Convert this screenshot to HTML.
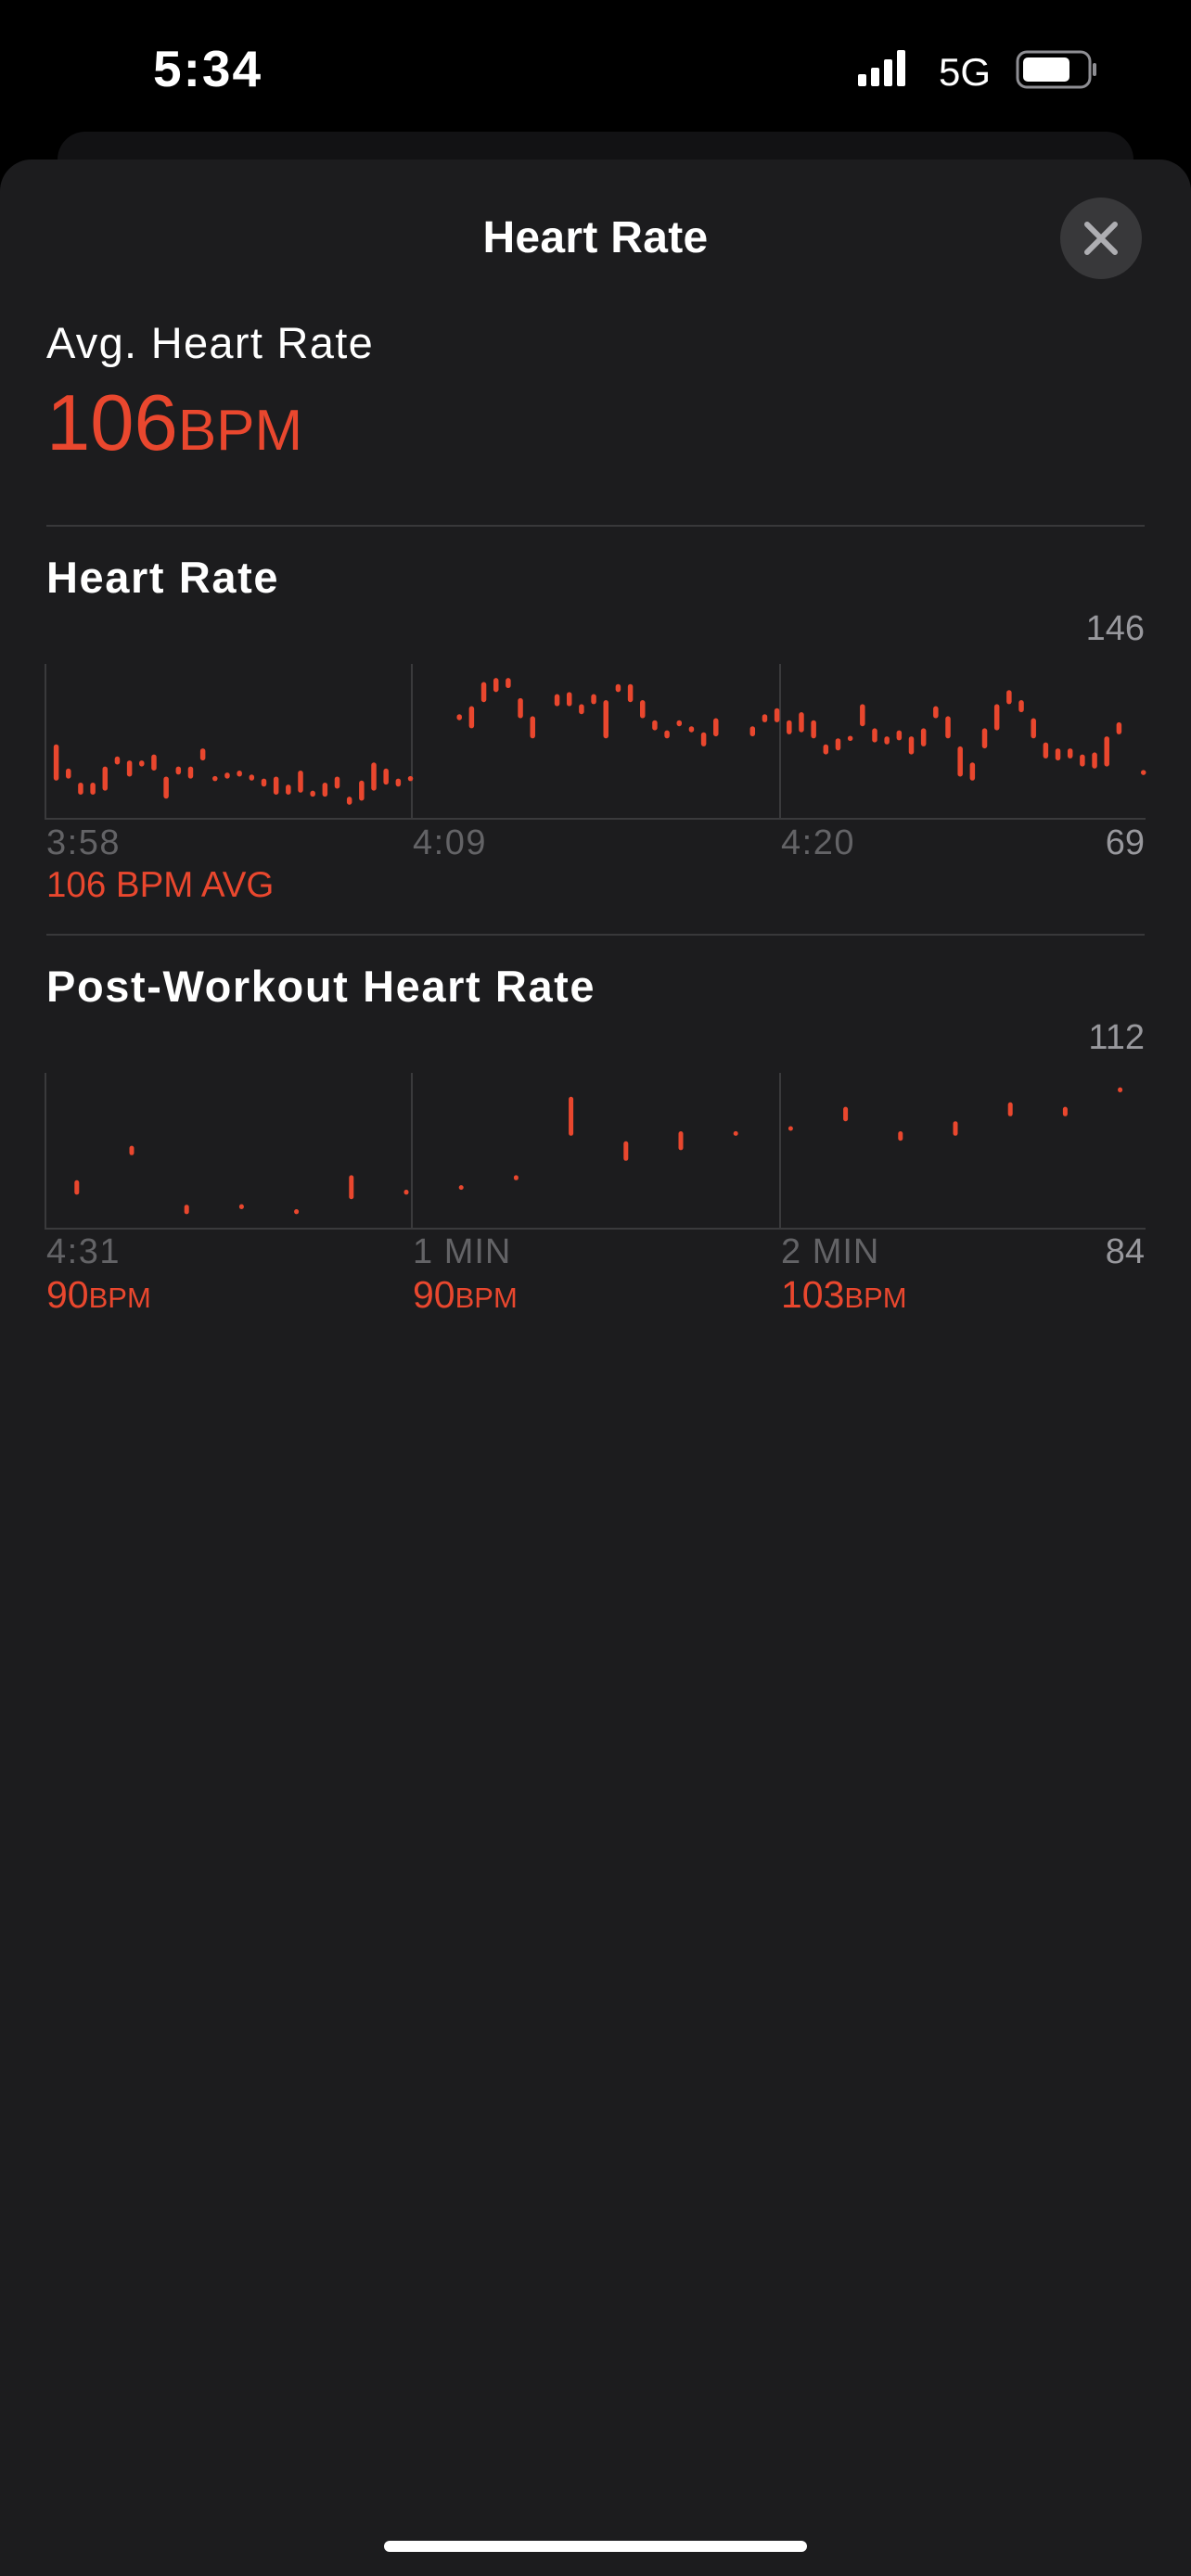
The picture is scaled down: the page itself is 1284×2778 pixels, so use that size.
<!DOCTYPE html>
<html><head><meta charset="utf-8">
<style>
html,body{margin:0;padding:0;background:#000;}
svg{display:block;font-family:"Liberation Sans",sans-serif;}
</style></head>
<body>
<svg id="root" width="1284" height="2778" viewBox="0 0 1284 2778" xmlns="http://www.w3.org/2000/svg">
  <rect x="0" y="0" width="1284" height="2778" fill="#000"/>
  <text x="165" y="93" font-size="55" font-weight="bold" letter-spacing="2" fill="#fff">5:34</text>
  <g fill="#fff">
    <rect x="925" y="80" width="9" height="13" rx="2"/>
    <rect x="939" y="73" width="9" height="20" rx="2"/>
    <rect x="953" y="64" width="9" height="29" rx="2"/>
    <rect x="967" y="54" width="9" height="39" rx="2"/>
  </g>
  <text x="1012" y="92" font-size="42" fill="#fff">5G</text>
  <g>
    <rect x="1097" y="56" width="78" height="38" rx="10" fill="none" stroke="#8e8e93" stroke-width="3"/>
    <rect x="1103" y="62" width="50" height="26" rx="5" fill="#fff"/>
    <rect x="1178" y="68" width="4" height="14" rx="2" fill="#8e8e93"/>
  </g>
  <rect x="62" y="142" width="1160" height="100" rx="30" fill="#121214"/>
  <rect x="0" y="172" width="1284" height="2700" rx="34" fill="#1c1c1e"/>
  <text x="642" y="272" font-size="48" font-weight="bold" letter-spacing="0.3" fill="#fff" text-anchor="middle">Heart Rate</text>
  <g>
    <circle cx="1187" cy="257" r="44" fill="#38383a"/>
    <path d="M1172 242 L1202 272 M1202 242 L1172 272" stroke="#aeaeb2" stroke-width="6" stroke-linecap="round"/>
  </g>
  <text x="50" y="386" font-size="47" letter-spacing="1.3" fill="#fff">Avg. Heart Rate</text>
  <text x="50" y="485" fill="#e9472e"><tspan font-size="85">106</tspan><tspan font-size="62">BPM</tspan></text>
  <rect x="50" y="566" width="1184" height="2" fill="#38383a"/>
  <text x="50" y="639" font-size="47" font-weight="bold" letter-spacing="1.6" fill="#fff">Heart Rate</text>
  <text x="1234" y="690" font-size="38" fill="#98989d" text-anchor="end">146</text>
  <g id="hrChart"></g>
  <text x="50" y="921" font-size="38" letter-spacing="1.5" fill="#636366">3:58</text>
  <text x="445" y="921" font-size="38" letter-spacing="1.5" fill="#636366">4:09</text>
  <text x="842" y="921" font-size="38" letter-spacing="1.5" fill="#636366">4:20</text>
  <text x="1234" y="921" font-size="38" fill="#98989d" text-anchor="end">69</text>
  <text x="50" y="967" font-size="38.5" fill="#e9472e">106 BPM AVG</text>
  <rect x="50" y="1007" width="1184" height="2" fill="#38383a"/>
  <text x="50" y="1080" font-size="47" font-weight="bold" letter-spacing="1.6" fill="#fff">Post-Workout Heart Rate</text>
  <text x="1234" y="1131" font-size="38" fill="#98989d" text-anchor="end">112</text>
  <g id="pwChart"></g>
  <text x="50" y="1362" font-size="38" letter-spacing="1.5" fill="#636366">4:31</text>
  <text x="445" y="1362" font-size="38" letter-spacing="1" fill="#636366">1 MIN</text>
  <text x="842" y="1362" font-size="38" letter-spacing="1" fill="#636366">2 MIN</text>
  <text x="1234" y="1362" font-size="38" fill="#98989d" text-anchor="end">84</text>
  <text x="50" y="1410" fill="#e9472e"><tspan font-size="41">90</tspan><tspan font-size="31">BPM</tspan></text>
  <text x="445" y="1410" fill="#e9472e"><tspan font-size="41">90</tspan><tspan font-size="31">BPM</tspan></text>
  <text x="842" y="1410" fill="#e9472e"><tspan font-size="41">103</tspan><tspan font-size="31">BPM</tspan></text>
  <rect x="414" y="2740" width="456" height="12" rx="6" fill="#fff"/>
</svg>
<script>
// Heart rate chart data (90 time slots; null = no sample)
const hrHigh = [106,94,87,87,95,100,98,98,101,90,95,95,104,90,92,93,91,89,90,86,93,83,87,90,80,88,97,94,89,90,null,null,null,121,125,137,139,139,129,120,null,131,132,126,131,128,136,136,128,118,113,118,115,112,119,null,null,115,121,124,118,122,118,106,109,110,126,114,110,113,110,114,125,120,105,97,114,126,133,128,119,107,104,104,101,102,110,117,null,93];
const hrLow = [88,89,81,81,83,96,90,95,93,79,91,89,98,88,89,90,88,85,81,81,82,80,80,84,76,78,83,86,85,88,null,null,null,118,114,127,132,134,119,109,null,125,125,121,126,109,132,127,119,113,109,115,112,105,110,null,null,110,117,117,111,112,109,101,103,108,115,107,106,108,101,105,119,109,90,88,104,113,126,122,109,99,98,99,95,94,95,111,null,91];
const hrTicks = ["3:58","4:09","4:20"];
const hrMin = 69, hrMax = 146;
// Post-workout data (20 slots)
const pwHigh = [92.7,98.9,88.3,88.4,87.5,93.6,91,91.8,93.6,107.7,99.7,101.5,101.5,102.4,105.9,101.5,103.3,106.7,105.9,109.4];
const pwLow = [90.1,97.2,86.6,87.5,86.6,89.3,90.1,91,92.7,100.7,96.2,98.1,100.7,101.6,103.3,99.8,100.7,104.2,104.2,108.5];
const pwMin = 84, pwMax = 112;

const NS = "http://www.w3.org/2000/svg";
function mk(tag, attrs, parent){
  const e = document.createElementNS(NS, tag);
  for (const k in attrs) e.setAttribute(k, attrs[k]);
  parent.appendChild(e);
  return e;
}
function drawChart(g, hi, lo, vmin, vmax, top, bottom, x0, step, w, prefix){
  const left = 48, right = 1235;
  const yS = v => bottom - (v - vmin) / (vmax - vmin) * (bottom - top);
  const xS = i => x0 + i * step;
  const base = mk("rect", {x:left, y:bottom-1, width:right-left, height:2, fill:"#3a3a3c"}, g);
  
  
  [48, 443, 840].forEach((gx, k) => {
    const l = mk("rect", {x:gx, y:top, width:2, height:bottom-top, fill:"#3a3a3c"}, g);
    
    
  });
  for (let i = 0; i < hi.length; i++){
    if (hi[i] === null) continue;
    const y1 = yS(hi[i]), y2 = yS(lo[i]);
    const h = Math.max(y2 - y1, w);
    const b = mk("rect", {x:xS(i) - w/2, y:(y1+y2)/2 - h/2, width:w, height:h, rx:w/2, fill:"#e9472e"}, g);
    
    
  }
}
drawChart(document.getElementById("hrChart"), hrHigh, hrLow, hrMin, hrMax, 716, 883, 60.6, 13.17, 5.5, "hr");
drawChart(document.getElementById("pwChart"), pwHigh, pwLow, pwMin, pwMax, 1157, 1325, 82.8, 59.2, 5, "pw");
</script>
</body></html>
